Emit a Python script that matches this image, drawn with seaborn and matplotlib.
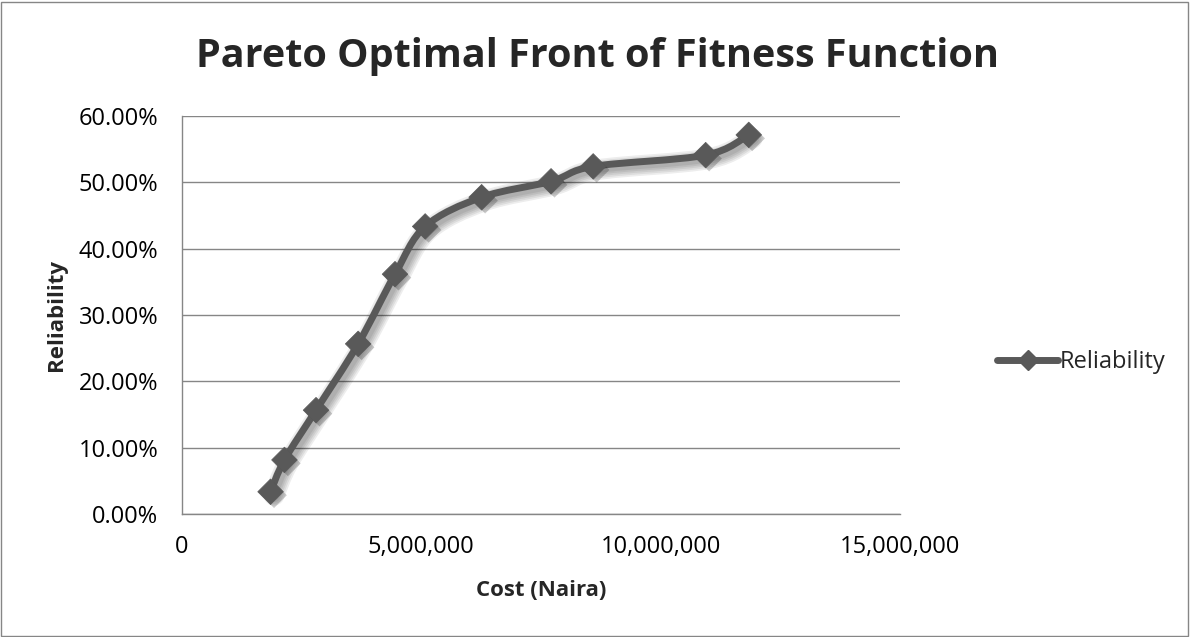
import numpy as np
import pandas as pd
import matplotlib
matplotlib.use("Agg")
import matplotlib.pyplot as plt
import seaborn as sns
from matplotlib.path import Path
from matplotlib.patches import PathPatch, Rectangle
from matplotlib.lines import Line2D
from matplotlib.ticker import FuncFormatter, MultipleLocator
import matplotlib.patheffects as pe

# Pareto front: cost in Naira vs. reliability (fraction)
cost = [1.85e6, 2.14e6, 2.80e6, 3.68e6, 4.45e6, 5.08e6, 6.26e6, 7.71e6, 8.59e6, 10.94e6, 11.84e6]
reliability = [0.0335, 0.0815, 0.1565, 0.2565, 0.3615, 0.4335, 0.4775, 0.5015, 0.5240, 0.5410, 0.5715]
series_name = "Reliability"
title = "Pareto Optimal Front of Fitness Function"
x_label = "Cost (Naira)"
y_label = "Reliability"

df = pd.DataFrame({"cost": cost, "reliability": reliability})

sns.set_theme(style="white")
plt.rcParams["font.family"] = ["Open Sans", "DejaVu Sans"]

LINE_COLOR = "#595959"
GRID_COLOR = "#868686"
LW = 5.0

fig = plt.figure(figsize=(11.9, 6.37), dpi=100)
ax = fig.add_axes([182 / 1190, 1 - 514 / 637, 718 / 1190, 398 / 637])


def smooth_path(xs, ys):
    """Bezier path through the points with Catmull-Rom style tangents."""
    pts = np.column_stack([xs, ys])
    n = len(pts)
    verts = [pts[0]]
    codes = [Path.MOVETO]
    for i in range(n - 1):
        p0 = pts[i - 1] if i > 0 else pts[i]
        p1 = pts[i]
        p2 = pts[i + 1]
        p3 = pts[i + 2] if i + 2 < n else pts[i + 1]
        c1 = p1 + (p2 - p0) / 6.0
        c2 = p2 - (p3 - p1) / 6.0
        verts += [c1, c2, p2]
        codes += [Path.CURVE4] * 3
    return Path(np.array(verts), codes)


def soft_shadow(width):
    effects = []
    for k in range(5):
        effects.append(pe.SimpleLineShadow(offset=(2.5, -2.5), shadow_color="black",
                                           alpha=0.07, linewidth=width + 2.5 * k))
    effects.append(pe.Normal())
    return effects


curve = PathPatch(smooth_path(df["cost"].to_numpy(), df["reliability"].to_numpy()),
                  facecolor="none", edgecolor=LINE_COLOR, lw=LW,
                  capstyle="round", joinstyle="round", zorder=3)
curve.set_path_effects(soft_shadow(LW))
ax.add_patch(curve)

sns.scatterplot(data=df, x="cost", y="reliability", marker="D", s=170,
                color=LINE_COLOR, edgecolor=LINE_COLOR, linewidth=0.5,
                ax=ax, zorder=4, legend=False)
marker_coll = ax.collections[-1]
marker_coll.set_path_effects([
    pe.SimplePatchShadow(offset=(2.5, -2.5), shadow_rgbFace="black", alpha=0.2),
    pe.Normal(),
])

ax.set_xlim(0, 15e6)
ax.set_ylim(0, 0.60)
ax.xaxis.set_major_locator(MultipleLocator(5e6))
ax.yaxis.set_major_locator(MultipleLocator(0.10))
ax.xaxis.set_major_formatter(FuncFormatter(lambda v, p: f"{v:,.0f}"))
ax.yaxis.set_major_formatter(FuncFormatter(lambda v, p: f"{v * 100:.2f}%"))

ax.grid(axis="y", color=GRID_COLOR, linewidth=1.0)
ax.grid(axis="x", visible=False)
for side in ["top", "right"]:
    ax.spines[side].set_visible(False)
for side in ["left", "bottom"]:
    ax.spines[side].set_color(GRID_COLOR)
    ax.spines[side].set_linewidth(1.0)
ax.tick_params(axis="both", length=0, labelsize=17, colors="black")
ax.tick_params(axis="y", pad=17)
ax.tick_params(axis="x", pad=15)

ax.set_xlabel(x_label, fontsize=16, fontweight="bold")
ax.xaxis.set_label_coords(0.5, -(590 - 514) / 398)
ax.xaxis.label.set_va("center")
ax.set_ylabel(y_label, fontsize=16, fontweight="bold")
ax.yaxis.set_label_coords(-(182 - 56) / 718, (514 - 315) / 398)
ax.yaxis.label.set_va("center")

fig.text(597 / 1190, 1 - 56 / 637, title, ha="center", va="center",
         fontsize=28.5, fontweight="bold")

handle = Line2D([], [], color=LINE_COLOR, lw=LW, marker="D", markersize=10,
                solid_capstyle="round")
leg = fig.legend(handles=[handle], labels=[series_name], loc="center left",
                 bbox_to_anchor=(997 / 1190, 1 - 362 / 637), frameon=False,
                 fontsize=17, handlelength=2.6, handletextpad=0.05,
                 borderaxespad=0, borderpad=0)

fig.patches.append(Rectangle((0.0008, 0.0015), 0.9975, 0.996, transform=fig.transFigure,
                             fill=False, edgecolor=GRID_COLOR, linewidth=1.0))

fig.savefig("out.png", dpi=100)
